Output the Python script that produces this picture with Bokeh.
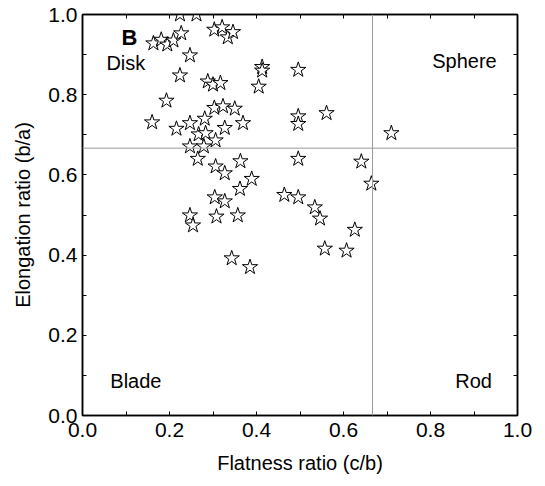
from bokeh.plotting import figure
from bokeh.models import Span, Label, LinearAxis, FixedTicker, Range1d, PrintfTickFormatter
from bokeh.embed import file_html
from bokeh.resources import INLINE

flatness = [0.224, 0.262, 0.163, 0.181, 0.195, 0.209, 0.227, 0.303, 0.321, 0.334,
            0.346, 0.247, 0.224, 0.413, 0.413, 0.496, 0.288, 0.300, 0.317, 0.405,
            0.193, 0.303, 0.323, 0.350, 0.561, 0.496, 0.496, 0.281, 0.160, 0.216,
            0.247, 0.327, 0.369, 0.710, 0.267, 0.283, 0.306, 0.247, 0.279, 0.265,
            0.363, 0.496, 0.641, 0.306, 0.327, 0.389, 0.664, 0.362, 0.304, 0.327,
            0.464, 0.496, 0.534, 0.546, 0.247, 0.254, 0.308, 0.357, 0.626, 0.557,
            0.607, 0.343, 0.385]
elongation = [1.000, 1.000, 0.928, 0.937, 0.925, 0.935, 0.953, 0.962, 0.968, 0.943,
              0.956, 0.898, 0.848, 0.869, 0.860, 0.862, 0.833, 0.825, 0.829, 0.820,
              0.785, 0.767, 0.771, 0.765, 0.754, 0.746, 0.727, 0.740, 0.731, 0.715,
              0.729, 0.717, 0.729, 0.704, 0.701, 0.704, 0.686, 0.671, 0.671, 0.640,
              0.634, 0.640, 0.633, 0.621, 0.604, 0.590, 0.578, 0.565, 0.544, 0.534,
              0.550, 0.544, 0.519, 0.491, 0.499, 0.474, 0.496, 0.499, 0.463, 0.416,
              0.411, 0.392, 0.370]

major_ticks = [0.0, 0.2, 0.4, 0.6, 0.8, 1.0]
minor_ticks = [0.1, 0.3, 0.5, 0.7, 0.9]
threshold = 2 / 3

FONT = "Liberation Sans"

p = figure(width=545, height=486, output_backend="svg", toolbar_location=None,
           x_range=Range1d(0, 1), y_range=Range1d(0, 1),
           min_border_left=82, min_border_right=28, min_border_top=14, min_border_bottom=71)
p.grid.visible = False
p.outline_line_color = "black"
p.outline_line_width = 1.5
p.background_fill_color = "white"
p.border_fill_color = "white"

def style_axis(ax, labels=True):
    ax.ticker = FixedTicker(ticks=major_ticks, minor_ticks=minor_ticks)
    ax.formatter = PrintfTickFormatter(format="%.1f")
    ax.major_tick_in = 4
    ax.major_tick_out = 0
    ax.minor_tick_in = 4
    ax.minor_tick_out = 0
    ax.axis_line_color = "black"
    ax.axis_line_width = 1.5
    ax.major_tick_line_color = "black"
    ax.minor_tick_line_color = "black"
    ax.major_label_text_font = FONT
    ax.major_label_text_font_size = "21px"
    ax.major_label_text_color = "black" if labels else None
    ax.axis_label_text_font = FONT
    ax.axis_label_text_font_size = "20px"
    ax.axis_label_text_font_style = "normal"
    ax.axis_label_text_color = "black"

for ax in p.xaxis:
    style_axis(ax)
    ax.axis_label = "Flatness ratio (c/b)"
    ax.major_label_standoff = 7
    ax.axis_label_standoff = 12
for ax in p.yaxis:
    style_axis(ax)
    ax.axis_label = "Elongation ratio (b/a)"
    ax.major_label_standoff = 5
    ax.axis_label_standoff = 11

top = LinearAxis()
style_axis(top, labels=False)
p.add_layout(top, "above")
right = LinearAxis()
style_axis(right, labels=False)
p.add_layout(right, "right")

p.add_layout(Span(location=threshold, dimension="width", line_color="#9a9a9a", line_width=1))
p.add_layout(Span(location=threshold, dimension="height", line_color="#9a9a9a", line_width=1))

p.scatter(flatness, elongation, marker="star", size=16, fill_color="white",
          line_color="black", line_width=1)

labels = [("B", 0.108, 0.943, "bold", "center", "22px"),
          ("Disk", 0.055, 0.878, "normal", "left", "20px"),
          ("Sphere", 0.804, 0.883, "normal", "left", "20px"),
          ("Blade", 0.064, 0.087, "normal", "left", "20px"),
          ("Rod", 0.857, 0.087, "normal", "left", "20px")]
for t, x, y, st, al, fs in labels:
    p.add_layout(Label(x=x, y=y, text=t, text_font=FONT, text_font_size=fs,
                       text_font_style=st, text_align=al, text_baseline="middle",
                       text_color="black"))

open("out.html", "w").write(file_html(p, INLINE))
